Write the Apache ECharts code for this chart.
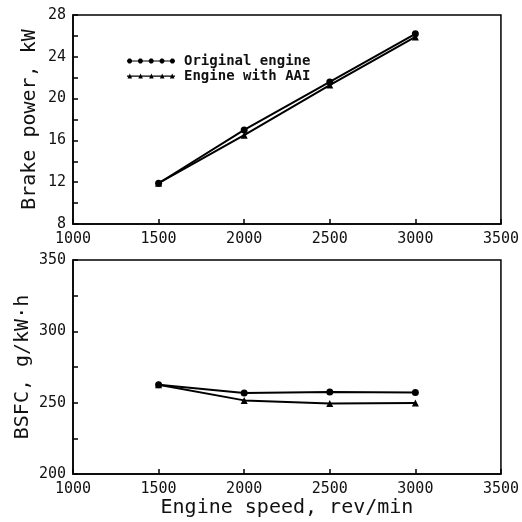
<!DOCTYPE html>
<html>
<head>
<meta charset="utf-8">
<script src="https://cdn.jsdelivr.net/npm/echarts@6/dist/echarts.min.js"></script>
<style>
  html, body { margin: 0; padding: 0; background: #fff; }
  #chart { width: 522px; height: 522px; }
</style>
</head>
<body>
<div id="chart"></div>
<script>
// engine speed, rev/min
var speeds = [1500, 2000, 2500, 3000];
// brake power, kW
var powerOriginal = [11.9, 17.0, 21.6, 26.2];
var powerAAI = [11.9, 16.5, 21.3, 25.9];
// BSFC, g/kW.h
var bsfcOriginal = [262.6, 256.8, 257.5, 257.2];
var bsfcAAI = [262.6, 251.6, 249.5, 249.7];

var seriesNames = ['Original engine', 'Engine with AAI'];

function pairs(xs, ys) {
  var out = [];
  for (var i = 0; i < xs.length; ++i) out.push([xs[i], ys[i]]);
  return out;
}

var mono = '"DejaVu Sans Mono", monospace';
var ink = '#111';

// legend icons: line with five dots / five triangles
function octagon(cx, cy, r) {
  var k = r * 0.414;
  return 'M' + (cx - k) + ',' + (cy - r) + 'L' + (cx + k) + ',' + (cy - r) +
    'L' + (cx + r) + ',' + (cy - k) + 'L' + (cx + r) + ',' + (cy + k) +
    'L' + (cx + k) + ',' + (cy + r) + 'L' + (cx - k) + ',' + (cy + r) +
    'L' + (cx - r) + ',' + (cy + k) + 'L' + (cx - r) + ',' + (cy - k) + 'Z';
}
var dotIcon = 'path://M0,3.4L48,3.4L48,4.6L0,4.6Z' +
  octagon(2.6, 4, 2.4) + octagon(13.4, 4, 2.4) + octagon(24.2, 4, 2.4) +
  octagon(35, 4, 2.4) + octagon(45.4, 4, 2.4);
var triIcon = 'path://M0,3.6L48,3.6L48,4.8L0,4.8Z' +
  'M0.5,6.5L2.8,1.5L5.1,6.5Z' +
  'M11.3,6.5L13.6,1.5L15.9,6.5Z' +
  'M22.1,6.5L24.4,1.5L26.7,6.5Z' +
  'M32.9,6.5L35.2,1.5L37.5,6.5Z' +
  'M42.9,6.5L45.2,1.5L47.5,6.5Z';

function plain(v) { return String(v); }

function xAxisOpt(gridIndex, name) {
  return {
    type: 'value',
    gridIndex: gridIndex,
    min: 1000,
    max: 3500,
    interval: 500,
    name: name,
    nameLocation: 'middle',
    nameGap: 22,
    nameTextStyle: { fontFamily: mono, fontSize: 20, color: ink },
    axisLine: { lineStyle: { color: '#000', width: 1.5 } },
    axisTick: { inside: true, length: 5, lineStyle: { color: '#000', width: 1.5 } },
    axisLabel: { fontFamily: mono, fontSize: 15, color: ink, margin: 8, formatter: plain },
    splitLine: { show: false }
  };
}

function yAxisOpt(gridIndex, min, max, interval, name, gap) {
  return {
    type: 'value',
    gridIndex: gridIndex,
    min: min,
    max: max,
    interval: interval,
    name: name,
    nameLocation: 'middle',
    nameGap: gap,
    nameMoveOverlap: false,
    nameTextStyle: { fontFamily: mono, fontSize: 20, color: ink },
    axisLine: { lineStyle: { color: '#000', width: 1.5 } },
    axisTick: { inside: true, length: 5, lineStyle: { color: '#000', width: 1.5 } },
    minorTick: { show: true, splitNumber: 2, length: 5, lineStyle: { color: '#000', width: 1.5 } },
    axisLabel: { fontFamily: mono, fontSize: 15, color: ink, margin: 7, formatter: plain },
    splitLine: { show: false },
    minorSplitLine: { show: false }
  };
}

function lineSeries(name, symbol, xi, yi, data) {
  return {
    name: name,
    type: 'line',
    xAxisIndex: xi,
    yAxisIndex: yi,
    symbol: symbol,
    symbolSize: 7,
    showAllSymbol: true,
    color: '#000',
    itemStyle: { color: '#000', borderWidth: 0 },
    lineStyle: { color: '#000', width: 2 },
    data: data,
    animation: false
  };
}

var chart = echarts.init(document.getElementById('chart'));
chart.setOption({
  backgroundColor: '#fff',
  animation: false,
  legend: {
    orient: 'vertical',
    left: 122,
    top: 49,
    itemWidth: 48,
    itemHeight: 7,
    itemGap: 1,
    selectedMode: false,
    textStyle: { fontFamily: mono, fontSize: 14, fontWeight: 'bold', color: ink, padding: [0, 0, 0, 4] },
    itemStyle: { color: '#000', borderWidth: 0 },
    data: [
      { name: seriesNames[0], icon: dotIcon },
      { name: seriesNames[1], icon: triIcon }
    ]
  },
  grid: [
    { left: 73, right: 20, top: 15, height: 209, show: true, borderColor: '#000', borderWidth: 1.5 },
    { left: 73, right: 20, top: 260, height: 214, show: true, borderColor: '#000', borderWidth: 1.5 }
  ],
  xAxis: [
    xAxisOpt(0, ''),
    xAxisOpt(1, 'Engine speed, rev/min')
  ],
  yAxis: [
    yAxisOpt(0, 8, 28, 4, 'Brake power, kW', 33),
    yAxisOpt(1, 200, 350, 50, 'BSFC, g/kW·h', 40)
  ],
  series: [
    lineSeries(seriesNames[0], 'circle', 0, 0, pairs(speeds, powerOriginal)),
    lineSeries(seriesNames[1], 'triangle', 0, 0, pairs(speeds, powerAAI)),
    lineSeries(seriesNames[0], 'circle', 1, 1, pairs(speeds, bsfcOriginal)),
    lineSeries(seriesNames[1], 'triangle', 1, 1, pairs(speeds, bsfcAAI))
  ]
});
</script>
</body>
</html>
